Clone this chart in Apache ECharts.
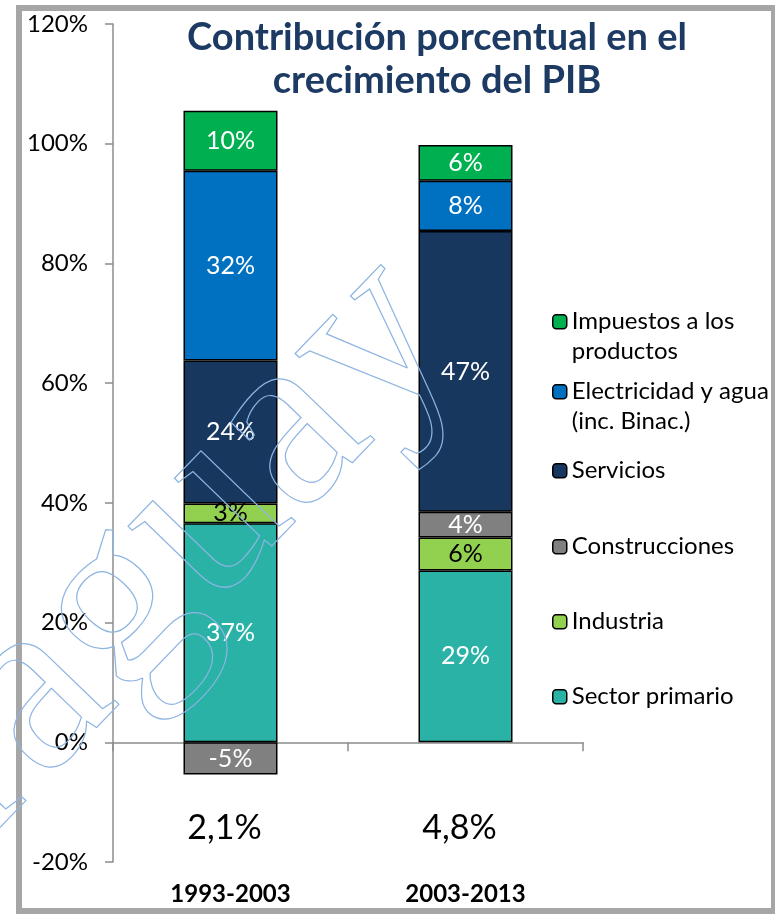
<!DOCTYPE html>
<html>
<head>
<meta charset="UTF-8">
<title>Contribución porcentual en el crecimiento del PIB</title>
<script type="text/javascript" src="https://cdn.jsdelivr.net/npm/echarts@6/dist/echarts.min.js"></script>
<style>
  html, body { margin: 0; padding: 0; background: #fff; }
  #main { width: 775px; height: 914px; }
</style>
</head>
<body>
<div id="main"></div>
<script type="text/javascript">
    // periodos y crecimiento promedio del PIB
    var periodos = ['1993-2003', '2003-2013'];
    var crecimiento = ['2,1%', '4,8%'];

    // aportes por sector (en %), de abajo hacia arriba
    var sectorPrimario = [36.6, 28.7];
    var industria = [3.3, 5.5];
    var construcciones = [-5.4, 4.3];
    var servicios = [23.9, 46.9];
    var electricidad = [31.7, 8.4];
    var impuestos = [10.0, 6.0];

    var nombres = ['Sector primario', 'Industria', 'Construcciones', 'Servicios',
        'Electricidad y agua (inc. Binac.)', 'Impuestos a los productos'];
    var colores = ['#29B2A5', '#92D050', '#808080', '#17375E', '#0070C0', '#00B050'];
    var valores = [sectorPrimario, industria, construcciones, servicios, electricidad, impuestos];

    // leyenda (orden de arriba hacia abajo); linea vacia arriba para alinear el cuadrito
    var leyenda = {
        'Impuestos a los productos': '\nImpuestos a los\nproductos',
        'Electricidad y agua (inc. Binac.)': '\nElectricidad y agua\n(inc. Binac.)'
    };
    var leyendaY = [321.7, 391.7, 470.7, 546.7, 621.7, 696.7];

    var myChart = echarts.init(document.getElementById('main'));

    var series = nombres.map(function (n, i) {
        return {
            name: n,
            type: 'bar',
            stack: 'total',
            barWidth: '40%',
            xAxisIndex: 0,
            data: valores[i],
            itemStyle: { color: colores[i], borderColor: '#000', borderWidth: 1.5 },
            label: {
                show: true,
                position: 'inside',
                color: n === 'Industria' ? '#000' : '#fff',
                fontFamily: 'Lato',
                fontSize: 25,
                formatter: function (p) { return Math.round(p.value) + '%'; }
            }
        };
    });

    var legends = nombres.slice().reverse().map(function (n, i) {
        var dosLineas = !!leyenda[n];
        return {
            data: [n],
            orient: 'vertical',
            left: 552,
            top: dosLineas ? leyendaY[i] - 45 : leyendaY[i] - 15,
            padding: 0,
            itemWidth: 14,
            itemHeight: 14,
            itemGap: 0,
            selectedMode: false,
            itemStyle: { borderColor: '#000', borderWidth: 1.5 },
            formatter: function (name) { return leyenda[name] || name; },
            textStyle: {
                fontFamily: 'Lato',
                fontSize: 24,
                color: '#000',
                lineHeight: 30
            }
        };
    });

    var option = {
        animation: false,
        backgroundColor: '#fff',
        title: {
            text: 'Contribución porcentual en el\ncrecimiento del PIB',
            left: 437,
            top: 16,
            padding: 0,
            textAlign: 'center',
            textStyle: {
                fontFamily: 'Lato',
                fontWeight: 'bold',
                fontSize: 38,
                lineHeight: 43,
                color: '#1D3A63'
            }
        },
        legend: legends,
        grid: { left: 113, right: 192, top: 24, bottom: 52, outerBoundsMode: 'none' },
        xAxis: [{
            // linea del cero con marcas; etiquetas de periodo abajo
            type: 'category',
            data: periodos,
            position: 'bottom',
            axisLine: { onZero: true, lineStyle: { color: '#8C8C8C', width: 1.5 } },
            axisTick: { show: true, interval: 0, alignWithLabel: false, length: 9,
                lineStyle: { color: '#8C8C8C', width: 1.5 } },
            axisLabel: {
                margin: 20,
                fontFamily: 'Lato',
                fontWeight: 'bold',
                fontSize: 24,
                color: '#000'
            }
        }, {
            // crecimiento promedio debajo de las barras
            type: 'category',
            data: periodos,
            position: 'top',
            axisLine: { show: false, onZero: false },
            axisTick: { show: false },
            axisLabel: {
                inside: true,
                margin: 787,
                color: '#000',
                formatter: function (v, i) { return '{g|' + crecimiento[i] + '}'; },
                rich: { g: { fontFamily: 'Lato', fontSize: 34, color: '#000', padding: [0, 12, 0, 0] } }
            }
        }],
        yAxis: {
            type: 'value',
            min: -20,
            max: 120,
            interval: 20,
            splitLine: { show: false },
            axisLine: { show: true, lineStyle: { color: '#8C8C8C', width: 1.5 } },
            axisTick: { show: true, length: 8, lineStyle: { color: '#8C8C8C', width: 1.5 } },
            axisLabel: {
                margin: 25,
                fontFamily: 'Lato',
                fontSize: 24,
                color: '#000',
                formatter: function (v) { return v + '%'; }
            }
        },
        graphic: [{
            type: 'rect',
            shape: { x: 19, y: 8, width: 755, height: 903 },
            style: { fill: 'none', stroke: '#A6A6A6', lineWidth: 6 },
            silent: true
        }, {
            type: 'text',
            x: 88,
            y: 640,
            rotation: 46 * Math.PI / 180,
            z: 100,
            silent: true,
            style: {
                text: 'Paraguay',
                font: '255px "Liberation Serif"',
                align: 'center',
                verticalAlign: 'middle',
                fill: 'none',
                stroke: '#8DB4E2',
                lineWidth: 1.2
            }
        }],
        series: series
    };

    myChart.setOption(option);
</script>
</body>
</html>
